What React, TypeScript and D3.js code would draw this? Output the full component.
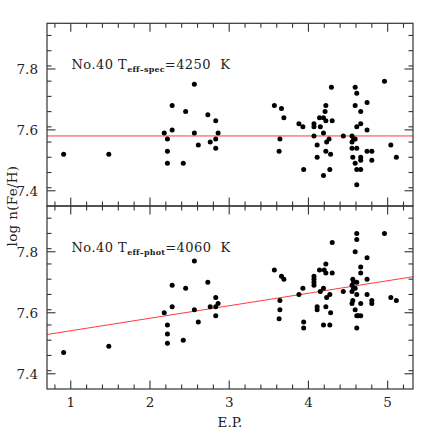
import React from "react";
import * as d3 from "d3";

// ---- data ----
const topEP = [
  0.91, 1.48,
  2.18, 2.22, 2.22, 2.22, 2.28, 2.28, 2.42, 2.45, 2.56, 2.56, 2.61, 2.73, 2.76, 2.83, 2.83, 2.83, 2.86,
  3.57, 3.66, 3.69, 3.64, 3.63, 3.88, 3.93, 3.94,
  4.07, 4.07, 4.07, 4.11, 4.11, 4.14, 4.15, 4.19, 4.19, 4.19, 4.21, 4.22, 4.22, 4.23, 4.22, 4.26, 4.27, 4.28, 4.30, 4.29,
  4.44,
  4.55, 4.57, 4.59, 4.55, 4.55, 4.61, 4.56, 4.59, 4.59, 4.61, 4.59, 4.66, 4.66, 4.61, 4.66, 4.66, 4.61, 4.66, 4.61,
  4.74, 4.74, 4.74, 4.80, 4.80, 4.96, 5.04, 5.11,
];
const topLogN = [
  7.52, 7.52,
  7.59, 7.57, 7.53, 7.49, 7.68, 7.60, 7.49, 7.66, 7.75, 7.59, 7.55, 7.65, 7.56, 7.63, 7.57, 7.54, 7.59,
  7.68, 7.67, 7.64, 7.57, 7.53, 7.62, 7.61, 7.47,
  7.62, 7.61, 7.58, 7.55, 7.51, 7.64, 7.61, 7.64, 7.59, 7.45, 7.66, 7.68, 7.63, 7.56, 7.53, 7.57, 7.47, 7.52, 7.63, 7.74,
  7.58,
  7.58, 7.57, 7.57, 7.56, 7.54, 7.54, 7.51, 7.49, 7.74, 7.72, 7.68, 7.66, 7.62, 7.61, 7.51, 7.50, 7.47, 7.47, 7.42,
  7.69, 7.60, 7.53, 7.53, 7.50, 7.76, 7.55, 7.51,
];
const bottomEP = [
  0.91, 1.48,
  2.56, 2.28, 2.45, 2.73, 2.83, 2.86, 2.83, 2.76, 2.56, 2.28, 2.18, 2.61, 2.83, 2.22, 2.22, 2.22, 2.42,
  3.57, 3.66, 3.69, 3.64, 3.64, 3.63, 3.88, 3.93, 3.94, 3.94,
  4.07, 4.07, 4.07, 4.07, 4.11, 4.11, 4.14, 4.15, 4.19, 4.19, 4.20, 4.22, 4.22, 4.22, 4.23, 4.27, 4.27, 4.28, 4.30, 4.30,
  4.44,
  4.61, 4.61, 4.59, 4.66, 4.66, 4.56, 4.57, 4.61, 4.55, 4.59, 4.55, 4.57, 4.61, 4.56, 4.55, 4.66, 4.59, 4.61, 4.63, 4.66, 4.61,
  4.74, 4.74, 4.74, 4.80, 4.80, 4.96, 5.04, 5.11,
];
const bottomLogN = [
  7.47, 7.49,
  7.77, 7.69, 7.68, 7.70, 7.65, 7.63, 7.62, 7.62, 7.61, 7.62, 7.60, 7.57, 7.59, 7.56, 7.53, 7.50, 7.51,
  7.74, 7.72, 7.71, 7.64, 7.61, 7.58, 7.66, 7.68, 7.57, 7.55,
  7.72, 7.71, 7.70, 7.69, 7.62, 7.61, 7.74, 7.67, 7.68, 7.56, 7.74, 7.76, 7.73, 7.62, 7.65, 7.66, 7.56, 7.60, 7.73, 7.83,
  7.67,
  7.86, 7.84, 7.80, 7.75, 7.73, 7.71, 7.70, 7.70, 7.69, 7.68, 7.67, 7.68, 7.66, 7.64, 7.63, 7.63, 7.61, 7.59, 7.59, 7.59, 7.55,
  7.78, 7.71, 7.66, 7.64, 7.63, 7.86, 7.65, 7.64,
];

const xMajorTicks = [1, 2, 3, 4, 5];
const yMajorTicks = [7.4, 7.6, 7.8];
const topMean = 7.58; // horizontal fit, upper panel
const bottomIntercept = 7.5; // linear fit, lower panel
const bottomSlope = 0.041;
const topLabel = { pre: "No.40 T", sub: "eff\u2013spec", post: "=4250  K" };
const bottomLabel = { pre: "No.40 T", sub: "eff\u2013phot", post: "=4060  K" };
const xTitle = "E.P.";
const yTitle = "log n(Fe/H)";

// ---- layout ----
const W = 436;
const H = 436;
const left = 47;
const right = 413;
const top = 23.3;
const mid = 206;
const bottom = 389;
const FONT = "'DejaVu Serif', serif";
const AXIS = "#333";

const xScale = d3.scaleLinear().domain([0.7, 5.32]).range([left, right]);
const yTop = d3.scaleLinear().domain([7.35, 7.95]).range([mid, top]);
const yBot = d3.scaleLinear().domain([7.35, 7.95]).range([bottom, mid]);

const xMinor = d3.range(8, 54, 2).map((v) => v / 10).filter((v) => !xMajorTicks.some((m) => Math.abs(m - v) < 1e-6));
const yMinor = d3.range(736, 795, 5).map((v) => v / 100).filter((v) => v > 7.36 && !yMajorTicks.some((m) => Math.abs(m - v) < 1e-6));

function Panel({ y, ep, val, fit, label, showX }: any) {
  const y0 = y.range()[0];
  const y1 = y.range()[1];
  const MJ = 8.5;
  const MN = 4.5;
  const [fx0, fx1] = xScale.domain();
  return (
    <g>
      {xMajorTicks.map((t) => (
        <g key={"xM" + t}>
          <line x1={xScale(t)} x2={xScale(t)} y1={y0} y2={y0 - MJ} stroke={AXIS} strokeWidth={1.1} />
          <line x1={xScale(t)} x2={xScale(t)} y1={y1} y2={y1 + MJ} stroke={AXIS} strokeWidth={1.1} />
        </g>
      ))}
      {xMinor.map((t) => (
        <g key={"xm" + t}>
          <line x1={xScale(t)} x2={xScale(t)} y1={y0} y2={y0 - MN} stroke={AXIS} strokeWidth={1.1} />
          <line x1={xScale(t)} x2={xScale(t)} y1={y1} y2={y1 + MN} stroke={AXIS} strokeWidth={1.1} />
        </g>
      ))}
      {yMajorTicks.map((t) => (
        <g key={"yM" + t}>
          <line x1={left} x2={left + MJ} y1={y(t)} y2={y(t)} stroke={AXIS} strokeWidth={1.1} />
          <line x1={right} x2={right - MJ} y1={y(t)} y2={y(t)} stroke={AXIS} strokeWidth={1.1} />
          <text x={left - 9} y={y(t)} dy="0.36em" textAnchor="end" fontFamily={FONT} fontSize={13.5} fill="#222">
            {d3.format(".1f")(t)}
          </text>
        </g>
      ))}
      {yMinor.map((t) => (
        <g key={"ym" + t}>
          <line x1={left} x2={left + MN} y1={y(t)} y2={y(t)} stroke={AXIS} strokeWidth={1.1} />
          <line x1={right} x2={right - MN} y1={y(t)} y2={y(t)} stroke={AXIS} strokeWidth={1.1} />
        </g>
      ))}
      {showX &&
        xMajorTicks.map((t) => (
          <text key={"xl" + t} x={xScale(t)} y={y0 + 18} textAnchor="middle" fontFamily={FONT} fontSize={13.5} fill="#222">
            {t}
          </text>
        ))}
      <line x1={xScale(fx0)} x2={xScale(fx1)} y1={y(fit(fx0))} y2={y(fit(fx1))} stroke="#ff3b3b" strokeWidth={1} />
      {ep.map((e: number, i: number) => (
        <circle key={i} cx={xScale(e)} cy={y(val[i])} r={2.5} fill="#000" />
      ))}
      <text
        x={xScale(1.01)}
        y={y(7.8)}
        fontFamily={FONT}
        fontSize={13}
        letterSpacing={0.45}
        fill="#222"
        style={{ whiteSpace: "pre" }}
      >
        <tspan>{label.pre}</tspan>
        <tspan dy={3.5} fontSize={8} fontWeight="bold" letterSpacing={0.2}>{label.sub}</tspan>
        <tspan dy={-3.5}>{label.post}</tspan>
      </text>
      <rect x={left} y={y1} width={right - left} height={y0 - y1} fill="none" stroke={AXIS} strokeWidth={1.2} />
    </g>
  );
}

export default function App() {
  return (
    <svg width={W} height={H} style={{ position: "absolute", left: 0, top: 0, background: "#fff" }}>
      <rect width={W} height={H} fill="#fff" />
      <Panel y={yTop} ep={topEP} val={topLogN} fit={() => topMean} label={topLabel} showX={false} />
      <Panel
        y={yBot}
        ep={bottomEP}
        val={bottomLogN}
        fit={(x: number) => bottomIntercept + bottomSlope * x}
        label={bottomLabel}
        showX={true}
      />
      <text x={(left + right) / 2} y={427} textAnchor="middle" fontFamily={FONT} fontSize={13.5} fill="#222">
        {xTitle}
      </text>
      <text
        transform={`translate(17,${mid}) rotate(-90)`}
        textAnchor="middle"
        fontFamily={FONT}
        fontSize={13.5}
        letterSpacing={0.3}
        fill="#222"
      >
        {yTitle}
      </text>
    </svg>
  );
}
